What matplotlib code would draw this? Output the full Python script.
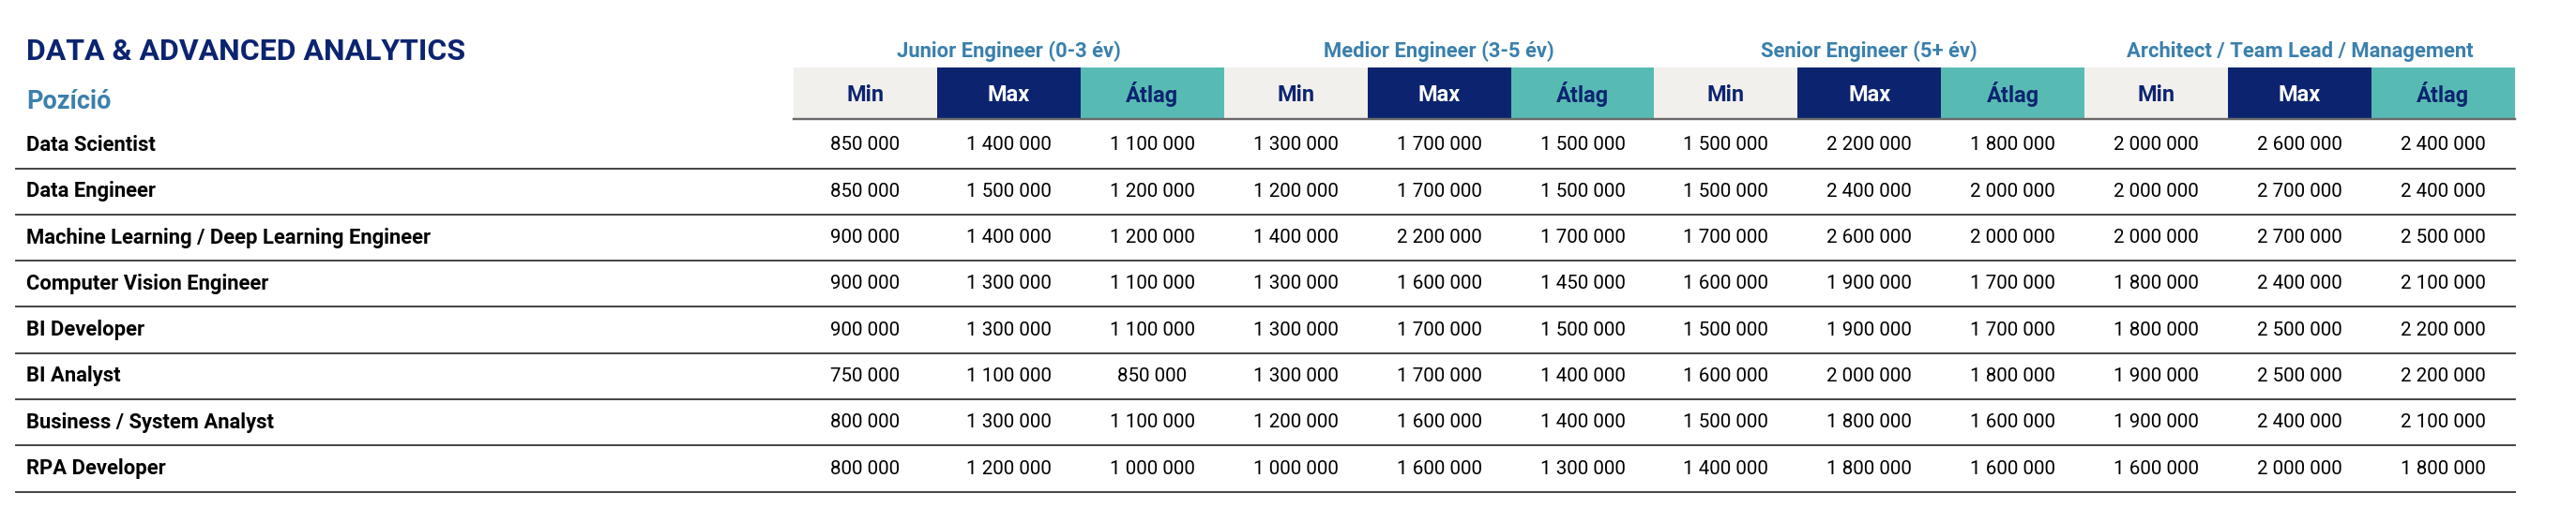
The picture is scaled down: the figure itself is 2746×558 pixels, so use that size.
"""Fizetesi tablazat - Data & Advanced Analytics."""

import matplotlib

matplotlib.use("Agg")
import matplotlib.pyplot as plt
from matplotlib.patches import Rectangle

plt.rcParams["font.family"] = ["Roboto", "DejaVu Sans"]

TITLE = "DATA & ADVANCED ANALYTICS"
ROW_HEADER = "Pozíció"
GROUPS = [
    "Junior Engineer (0-3 év)",
    "Medior Engineer (3-5 év)",
    "Senior Engineer (5+ év)",
    "Architect / Team Lead / Management",
]
SUBCOLS = ["Min", "Max", "Átlag"]
POSITIONS = [
    "Data Scientist",
    "Data Engineer",
    "Machine Learning / Deep Learning Engineer",
    "Computer Vision Engineer",
    "BI Developer",
    "BI Analyst",
    "Business / System Analyst",
    "RPA Developer",
]
junior = [
    [850000, 1400000, 1100000],
    [850000, 1500000, 1200000],
    [900000, 1400000, 1200000],
    [900000, 1300000, 1100000],
    [900000, 1300000, 1100000],
    [750000, 1100000, 850000],
    [800000, 1300000, 1100000],
    [800000, 1200000, 1000000],
]
medior = [
    [1300000, 1700000, 1500000],
    [1200000, 1700000, 1500000],
    [1400000, 2200000, 1700000],
    [1300000, 1600000, 1450000],
    [1300000, 1700000, 1500000],
    [1300000, 1700000, 1400000],
    [1200000, 1600000, 1400000],
    [1000000, 1600000, 1300000],
]
senior = [
    [1500000, 2200000, 1800000],
    [1500000, 2400000, 2000000],
    [1700000, 2600000, 2000000],
    [1600000, 1900000, 1700000],
    [1500000, 1900000, 1700000],
    [1600000, 2000000, 1800000],
    [1500000, 1800000, 1600000],
    [1400000, 1800000, 1600000],
]
architect = [
    [2000000, 2600000, 2400000],
    [2000000, 2700000, 2400000],
    [2000000, 2700000, 2500000],
    [1800000, 2400000, 2100000],
    [1800000, 2500000, 2200000],
    [1900000, 2500000, 2200000],
    [1900000, 2400000, 2100000],
    [1600000, 2000000, 1800000],
]

NAVY = "#0c2470"
TEAL = "#58bbb3"
BEIGE = "#f2f0ec"
STEEL = "#3a80ad"

W, H = 2746, 558
LEFT = 17
COL0 = 846
COL_W = 152.9
HEAD_TOP, HEAD_BOT = 72, 127
FIRST_LINE = 179.5
ROW_H = 49.3


def fmt(v):
    return f"{v:,}".replace(",", " ")


def main():
    fig = plt.figure(figsize=(W / 100, H / 100), dpi=100)
    ax = fig.add_axes([0, 0, 1, 1])
    ax.set_xlim(0, W)
    ax.set_ylim(H, 0)
    ax.axis("off")

    px = 0.72  # pixel -> pont
    right = COL0 + COL_W * 12

    ax.text(28, 55, TITLE, fontsize=32 * px, fontweight="bold",
            color=NAVY, va="center", ha="left")
    ax.text(28, 108, ROW_HEADER, fontsize=27 * px, fontweight="bold",
            color=STEEL, va="center", ha="left")

    fills = [BEIGE, NAVY, TEAL]
    txt_cols = [NAVY, "white", NAVY]
    for g, name in enumerate(GROUPS):
        gx = COL0 + g * 3 * COL_W
        ax.text(gx + 1.5 * COL_W, 55, name, fontsize=22 * px,
                fontweight="bold", color=STEEL, ha="center", va="center")
        for k, sub in enumerate(SUBCOLS):
            x0 = gx + k * COL_W
            ax.add_patch(Rectangle((x0, HEAD_TOP), COL_W, HEAD_BOT - HEAD_TOP,
                                   facecolor=fills[k], edgecolor="none"))
            ax.text(x0 + COL_W / 2, 101, sub, fontsize=23.5 * px,
                    fontweight="bold", color=txt_cols[k],
                    ha="center", va="center")
    ax.plot([COL0, right], [HEAD_BOT, HEAD_BOT], color="#6a6a6a", lw=2.4 * px)

    tables = [junior, medior, senior, architect]
    for i, pos in enumerate(POSITIONS):
        yl = FIRST_LINE + ROW_H * i
        yc = yl - 24.5
        ax.text(28, yc, pos, fontsize=22 * px, fontweight="bold",
                color="black", ha="left", va="center")
        for g, tab in enumerate(tables):
            for k, v in enumerate(tab[i]):
                cx = COL0 + (g * 3 + k + 0.5) * COL_W
                ax.text(cx, yc, fmt(v), fontsize=20.5 * px, color="black",
                        ha="center", va="center")
        ax.plot([LEFT, right], [yl, yl], color="#333333", lw=1.8 * px)

    fig.savefig("out.png", dpi=100)
    plt.close(fig)


if __name__ == "__main__":
    main()
